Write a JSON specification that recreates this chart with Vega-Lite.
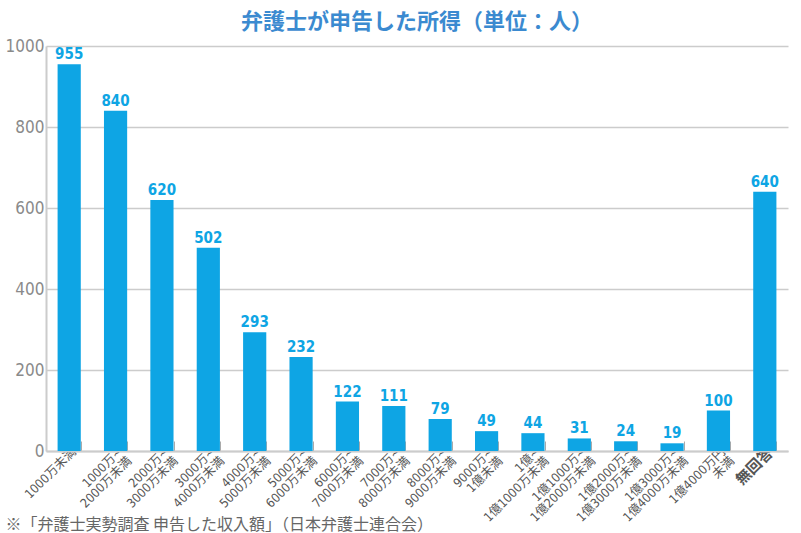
{
  "$schema": "https://vega.github.io/schema/vega-lite/v6.json",
  "width": 742,
  "height": 405,
  "autosize": "none",
  "padding": {"left": 46, "top": 46, "right": 13, "bottom": 82},
  "background": "white",
  "title": {
    "text": "弁護士が申告した所得（単位：人）",
    "font": "Noto Sans CJK JP",
    "fontSize": 22,
    "fontWeight": "bold",
    "color": "#3b8ad0",
    "anchor": "middle",
    "offset": 3
  },
  "config": {
    "view": {"stroke": null},
    "font": "DejaVu Sans Condensed"
  },
  "data": {
    "values": [
      {"label": "1000万未満", "value": 955},
      {"label": "1000万~\n2000万未満", "value": 840},
      {"label": "2000万~\n3000万未満", "value": 620},
      {"label": "3000万~\n4000万未満", "value": 502},
      {"label": "4000万~\n5000万未満", "value": 293},
      {"label": "5000万~\n6000万未満", "value": 232},
      {"label": "6000万~\n7000万未満", "value": 122},
      {"label": "7000万~\n8000万未満", "value": 111},
      {"label": "8000万~\n9000万未満", "value": 79},
      {"label": "9000万~\n1億未満", "value": 49},
      {"label": "1億~\n1億1000万未満", "value": 44},
      {"label": "1億1000万~\n1億2000万未満", "value": 31},
      {"label": "1億2000万~\n1億3000万未満", "value": 24},
      {"label": "1億3000万~\n1億4000万未満", "value": 19},
      {"label": "1億4000万円\n未満", "value": 100},
      {"label": "無回答", "value": 640}
    ]
  },
  "encoding": {
    "x": {
      "field": "label",
      "type": "nominal",
      "sort": null,
      "scale": {"paddingInner": 0.5, "paddingOuter": 0.25},
      "axis": {
        "title": "※「弁護士実勢調査 申告した収入額」（日本弁護士連合会）",
        "titleFont": "Noto Sans CJK JP",
        "titleFontSize": 16,
        "titleFontWeight": "normal",
        "titleColor": "#666666",
        "titleAnchor": "start",
        "titleAlign": "left",
        "titleBaseline": "alphabetic",
        "titleX": -41,
        "titleY": 78,
        "labelExpr": "split(datum.label, '\\n')",
        "labelAngle": -45,
        "labelAlign": "right",
        "labelBaseline": "top",
        "labelFont": "DejaVu Sans Condensed, Noto Sans CJK JP",
        "labelFontSize": {"condition": {"test": "datum.label == '無回答'", "value": 15}, "value": 12.5},
        "labelFontWeight": {"condition": {"test": "datum.label == '無回答'", "value": "bold"}, "value": "normal"},
        "labelLineHeight": 13,
        "labelColor": "#555555",
        "labelPadding": 4,
        "tickBand": "extent",
        "tickSize": -10,
        "tickColor": "#aaaaaa",
        "tickWidth": 1,
        "domainColor": "#cccccc",
        "domainWidth": 2
      }
    },
    "y": {
      "field": "value",
      "type": "quantitative",
      "scale": {"domain": [0, 1000]},
      "axis": {
        "title": null,
        "format": "d",
        "values": [0, 200, 400, 600, 800, 1000],
        "labelFont": "DejaVu Sans Condensed",
        "labelFontSize": 17,
        "labelColor": "#8a8a8a",
        "labelPadding": 2,
        "ticks": false,
        "domainColor": "#cccccc",
        "domainWidth": 2,
        "gridColor": "#cccccc",
        "gridWidth": 1.5
      }
    }
  },
  "layer": [
    {"mark": {"type": "bar", "color": "#0ea5e4"}},
    {
      "mark": {
        "type": "text",
        "dy": -10,
        "font": "DejaVu Sans Condensed",
        "fontSize": 15,
        "fontWeight": "bold",
        "color": "#0ea5e4"
      },
      "encoding": {"text": {"field": "value", "type": "quantitative"}}
    }
  ]
}
